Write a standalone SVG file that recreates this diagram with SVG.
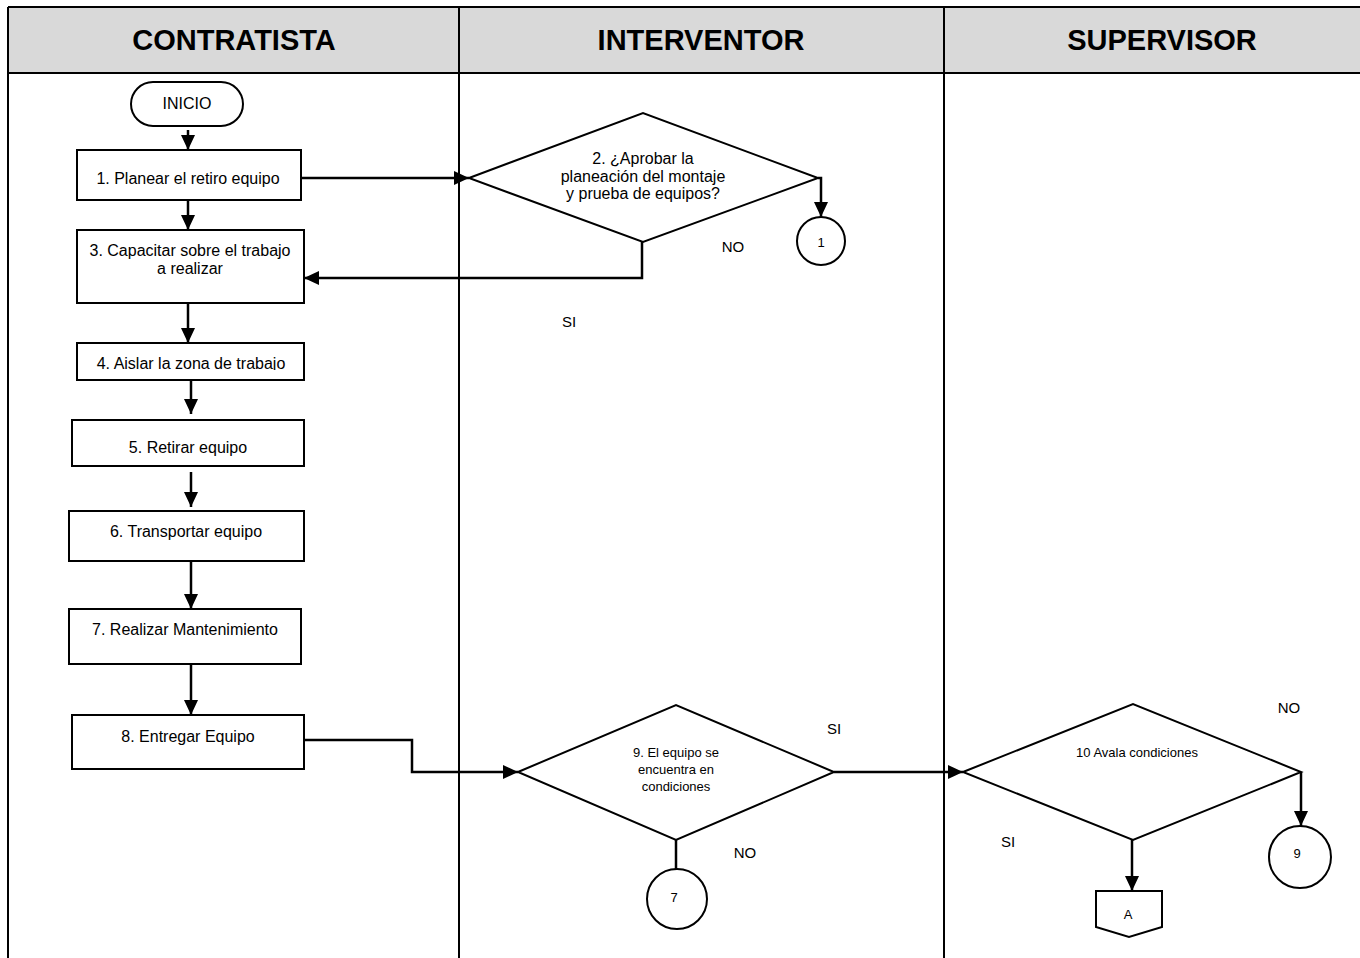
<svg xmlns="http://www.w3.org/2000/svg" width="1360" height="958" viewBox="0 0 1360 958">
<style>
.t{font-family:"Liberation Sans",Arial,sans-serif;fill:#000;text-anchor:middle}
.h{font-size:29px;font-weight:bold}
.b{font-size:16px}
.d{font-size:13px}
.l{font-size:15px}
.c{font-size:13px}
.shape{fill:#fff;stroke:#000;stroke-width:2}
.conn{fill:none;stroke:#000;stroke-width:2.5}
.frame{fill:none;stroke:#000;stroke-width:2}
</style>
<defs>
<marker id="ah" markerUnits="userSpaceOnUse" markerWidth="16" markerHeight="14" refX="15" refY="7" orient="auto">
<path d="M0,0 L15,7 L0,14 z" fill="#000"/>
</marker>
<clipPath id="clip4"><rect x="70" y="340" width="240" height="30"/></clipPath>
</defs>
<rect x="0" y="0" width="1360" height="958" fill="#fff"/>
<g id="lanes">
<rect x="8" y="7" width="1380" height="66" fill="#d9d9d9"/>
<line class="frame" x1="8" y1="7" x2="1360" y2="7"/>
<line class="frame" x1="8" y1="73" x2="1360" y2="73"/>
<line class="frame" x1="8" y1="7" x2="8" y2="958"/>
<line class="frame" x1="459" y1="7" x2="459" y2="958"/>
<line class="frame" x1="944" y1="7" x2="944" y2="958"/>
<text class="t h" x="234" y="50">CONTRATISTA</text>
<text class="t h" x="701" y="50">INTERVENTOR</text>
<text class="t h" x="1162" y="50">SUPERVISOR</text>
</g>
<g id="connectors">
<path class="conn" d="M188,130 L188,150" marker-end="url(#ah)"/>
<path class="conn" d="M188,200 L188,230" marker-end="url(#ah)"/>
<path class="conn" d="M301,178 L469,178" marker-end="url(#ah)"/>
<path class="conn" d="M642,242 L642,278 L304,278" marker-end="url(#ah)"/>
<path class="conn" d="M818,178 L821,178 L821,217" marker-end="url(#ah)"/>
<path class="conn" d="M188,303 L188,343" marker-end="url(#ah)"/>
<path class="conn" d="M191,380 L191,414" marker-end="url(#ah)"/>
<path class="conn" d="M191,472 L191,507" marker-end="url(#ah)"/>
<path class="conn" d="M191,562 L191,609" marker-end="url(#ah)"/>
<path class="conn" d="M191,665 L191,715" marker-end="url(#ah)"/>
<path class="conn" d="M304,740 L412,740 L412,772 L518,772" marker-end="url(#ah)"/>
<path class="conn" d="M676,840 L676,869"/>
<path class="conn" d="M834,772 L963,772" marker-end="url(#ah)"/>
<path class="conn" d="M1301,772 L1301,826" marker-end="url(#ah)"/>
<path class="conn" d="M1132,840 L1132,891" marker-end="url(#ah)"/>
</g>
<g id="labels">
<text class="t l" x="733" y="252">NO</text>
<text class="t l" x="569" y="327">SI</text>
<text class="t l" x="834" y="734">SI</text>
<text class="t l" x="745" y="858">NO</text>
<text class="t l" x="1289" y="713">NO</text>
<text class="t l" x="1008" y="847">SI</text>
</g>
<g id="inicio">
<rect class="shape" x="131" y="82" width="112" height="44" rx="22"/>
<text class="t b" x="187" y="109">INICIO</text>
</g>
<g id="n1">
<rect class="shape" x="77" y="150" width="224" height="50"/>
<text class="t b" x="188" y="184">1. Planear el retiro equipo</text>
</g>
<g id="n2">
<polygon class="shape" points="469,178 643,113 818,178 643,242"/>
<text class="t b" x="643" y="164">2. ¿Aprobar la</text>
<text class="t b" x="643" y="182">planeación del montaje</text>
<text class="t b" x="643" y="199">y prueba de equipos?</text>
</g>
<g id="c1">
<circle class="shape" cx="821" cy="241" r="24"/>
<text class="t c" x="821" y="247">1</text>
</g>
<g id="n3">
<rect class="shape" x="77" y="230" width="227" height="73"/>
<text class="t b" x="190" y="256">3. Capacitar sobre el trabajo</text>
<text class="t b" x="190" y="274">a realizar</text>
</g>
<g id="n4">
<rect class="shape" x="77" y="343" width="227" height="37"/>
<text class="t b" x="191" y="369" clip-path="url(#clip4)">4. Aislar la zona de trabajo</text>
</g>
<g id="n5">
<rect class="shape" x="72" y="420" width="232" height="46"/>
<text class="t b" x="188" y="453">5. Retirar equipo</text>
</g>
<g id="n6">
<rect class="shape" x="69" y="511" width="235" height="50"/>
<text class="t b" x="186" y="537">6. Transportar equipo</text>
</g>
<g id="n7">
<rect class="shape" x="69" y="609" width="232" height="55"/>
<text class="t b" x="185" y="635">7. Realizar Mantenimiento</text>
</g>
<g id="n8">
<rect class="shape" x="72" y="715" width="232" height="54"/>
<text class="t b" x="188" y="742">8. Entregar Equipo</text>
</g>
<g id="n9">
<polygon class="shape" points="518,772 676,705 834,772 676,840"/>
<text class="t d" x="676" y="757">9. El equipo se</text>
<text class="t d" x="676" y="774">encuentra en</text>
<text class="t d" x="676" y="791">condiciones</text>
</g>
<g id="c7">
<circle class="shape" cx="677" cy="899" r="30"/>
<text class="t c" x="674" y="902">7</text>
</g>
<g id="n10">
<polygon class="shape" points="963,772 1133,704 1301,772 1133,840"/>
<text class="t d" x="1137" y="757">10 Avala condiciones</text>
</g>
<g id="c9">
<circle class="shape" cx="1300" cy="857" r="31"/>
<text class="t c" x="1297" y="858">9</text>
</g>
<g id="offA">
<polygon class="shape" points="1096,891 1162,891 1162,927 1129,937 1096,927"/>
<text class="t c" x="1128" y="919">A</text>
</g>
</svg>
